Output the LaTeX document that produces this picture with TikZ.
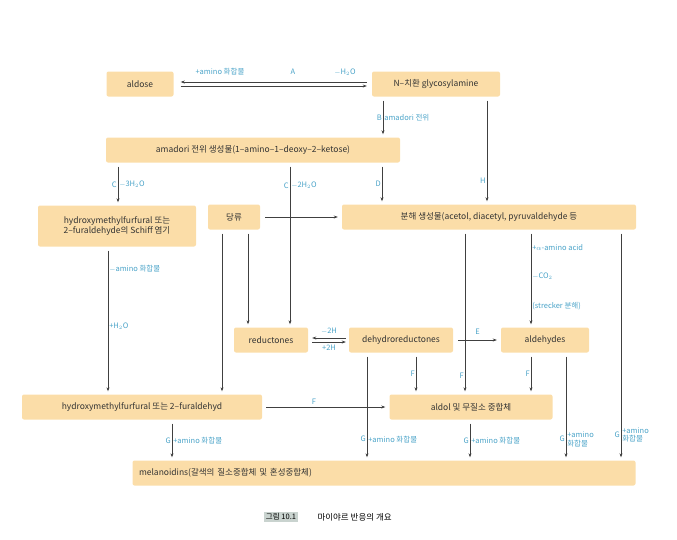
\documentclass[tikz,border=0pt]{standalone}
\usepackage{fontspec}
\setmainfont{Noto Sans CJK KR}
\usetikzlibrary{arrows.meta}
\definecolor{boxfill}{HTML}{FBDDA8}
\definecolor{lblue}{HTML}{4AA3C8}
\definecolor{capgray}{HTML}{C9D3CF}
\tikzset{
  box/.style={fill=boxfill,rounded corners=2pt,font=\fontsize{8.5}{10}\selectfont,inner sep=0pt,text=black!80},
  arr/.style={draw=black!75,line width=0.6pt,-{Stealth[length=4pt,width=3pt]}},
  lbl/.style={text=lblue,font=\fontsize{7.5}{8.5}\selectfont,inner sep=1pt},
}
\begin{document}
\begin{tikzpicture}[x=1pt,y=-1pt]
	\useasboundingbox (0,0) rectangle (677,539);
	% boxes
	\node [box,minimum width=67,minimum height=25] (aldose) at (140,84) {aldose};
	\node [box,minimum width=128,minimum height=25] (glyco) at (436,84) {N--치환 glycosylamine};
	\node [box,minimum width=294,minimum height=25] (amadori) at (253,150) {amadori 전위 생성물(1--amino--1--deoxy--2--ketose)};
	\node [box,minimum width=158,minimum height=41,align=center] (schiff) at (117,226) {hydroxymethylfurfural 또는\\2--furaldehyde의 Schiff 염기};
	\node [box,minimum width=52,minimum height=25] (sugar) at (234,217) {당류};
	\node [box,minimum width=294,minimum height=25] (split) at (489,217) {분해 생성물(acetol, diacetyl, pyruvaldehyde 등};
	\node [box,minimum width=74,minimum height=25] (red) at (271,340) {reductones};
	\node [box,minimum width=104,minimum height=25] (dehyd) at (401,340) {dehydroreductones};
	\node [box,minimum width=88,minimum height=25] (ald) at (545,340) {aldehydes};
	\node [box,minimum width=240,minimum height=25] (hmf) at (142,407) {hydroxymethylfurfural 또는 2--furaldehyd};
	\node [box,minimum width=163,minimum height=25] (aldol) at (471,407) {aldol 및 무질소 중합체};
	\node [box,minimum width=503,minimum height=25,text width=490] (mel) at (384,473) {melanoidins(갈색의 질소중합체 및 혼성중합체)};
	% caption
	\node [fill=capgray,font=\fontsize{7.5}{9}\selectfont,inner sep=2pt] (fig) at (281,517) {그림 10.1};
	\node [font=\fontsize{8.5}{10}\selectfont,anchor=west] (cap) at (314,517) {마이야르 반응의 개요};
	% A
	\draw [arr] ([yshift=-2]aldose.east) ++(7,0) -- ([yshift=-2,xshift=-5]glyco.west);
	\draw [arr] ([yshift=2,xshift=-5]glyco.west) -- ([yshift=2,xshift=7]aldose.east);
	\node [lbl] (la1) at (220,72) {+amino 화합물};
	\node [lbl] (la2) at (293,72) {A};
	\node [lbl] (la3) at (345,72) {$-$H$_2$O};
	% B
	\draw [arr] ([yshift=-4]glyco.south -| 383,0) -- ([yshift=3]amadori.north -| 383,0)
		node [lbl,pos=0.5,left] {B} node [lbl,pos=0.5,right] {amadori 전위};
	% C, D, H
	\draw [arr] ([yshift=-4]amadori.south -| 118,0) -- ([yshift=3]schiff.north -| 118,0)
		node [lbl,pos=0.5,left] {C} node [lbl,pos=0.5,right] {$-$3H$_2$O};
	\draw [arr] ([yshift=-4]amadori.south -| 290,0) -- ([yshift=3]red.north -| 290,0)
		node [lbl,pos=0.12,left] {C} node [lbl,pos=0.12,right] {$-$2H$_2$O};
	\draw [arr] ([yshift=-4]amadori.south -| 382,0) -- ([yshift=3]split.north -| 382,0)
		node [lbl,pos=0.5,left] {D};
	\draw [arr] ([yshift=-4]glyco.south -| 487,0) -- ([yshift=3]split.north -| 487,0)
		node [lbl,pos=0.8,left] {H};
	% from sugar
	\draw [arr] ([xshift=5]sugar.east) -- ([xshift=-4]split.west);
	\draw [arr] ([yshift=-4]sugar.south -| 222,0) -- ([yshift=3]hmf.north -| 222,0);
	\draw [arr] ([yshift=-4]sugar.south -| 248,0) -- ([yshift=3]red.north -| 248,0);
	% schiff -> hmf
	\draw [arr] ([yshift=-4]schiff.south -| 108,0) -- ([yshift=3]hmf.north -| 108,0)
		node [lbl,pos=0.13,right] {$-$amino 화합물} node [lbl,pos=0.54,right] {+H$_2$O};
	% reductones
	\draw [arr] ([yshift=-2,xshift=4]red.east) -- ([yshift=-2,xshift=-3]dehyd.west)
		node [lbl,midway,above=6] {$-$2H};
	\draw [arr] ([yshift=2,xshift=-3]dehyd.west) -- ([yshift=2,xshift=4]red.east)
		node [lbl,midway,below=6] {+2H};
	\draw [arr] ([xshift=5]dehyd.east) -- ([xshift=-4]ald.west)
		node [lbl,midway,above=4] {E};
	% split -> aldehydes, aldol, melanoidins
	\draw [arr] ([yshift=-4]split.south -| 531,0) -- ([yshift=3]ald.north -| 531,0)
		node [lbl,pos=0.15,right] {+$\alpha$-amino acid}
		node [lbl,pos=0.47,right] {$-$CO$_2$}
		node [lbl,pos=0.8,right] {(strecker 분해)};
	\draw [arr] ([yshift=-4]split.south -| 465,0) -- ([yshift=3]aldol.north -| 465,0)
		node [lbl,pos=0.9,left] {F};
	\draw [arr] ([yshift=-4]split.south -| 621,0) -- ([yshift=3]mel.north -| 621,0)
		node [lbl,pos=0.9,left] {G} node [lbl,pos=0.9,right,align=left] {+amino\\화합물};
	% to aldol
	\draw [arr] ([yshift=-4]dehyd.south -| 416,0) -- ([yshift=3]aldol.north -| 416,0)
		node [lbl,midway,left] {F};
	\draw [arr] ([yshift=-4]ald.south -| 531,0) -- ([yshift=3]aldol.north -| 531,0)
		node [lbl,midway,left] {F};
	\draw [arr] ([xshift=4]hmf.east) -- ([xshift=-4]aldol.west)
		node [lbl,pos=0.4,above=1] {F};
	% to melanoidins
	\draw [arr] ([yshift=-4]hmf.south -| 172,0) -- ([yshift=3]mel.north -| 172,0)
		node [lbl,midway,left] {G} node [lbl,midway,right] {+amino 화합물};
	\draw [arr] ([yshift=-4]dehyd.south -| 367,0) -- ([yshift=3]mel.north -| 367,0)
		node [lbl,pos=0.82,left] {G} node [lbl,pos=0.82,right] {+amino 화합물};
	\draw [arr] ([yshift=-4]aldol.south -| 470,0) -- ([yshift=3]mel.north -| 470,0)
		node [lbl,midway,left] {G} node [lbl,midway,right] {+amino 화합물};
	\draw [arr] ([yshift=-4]ald.south -| 566,0) -- ([yshift=3]mel.north -| 566,0)
		node [lbl,pos=0.82,left] {G} node [lbl,pos=0.82,right,align=left] {+amino\\화합물};
\end{tikzpicture}
\end{document}
